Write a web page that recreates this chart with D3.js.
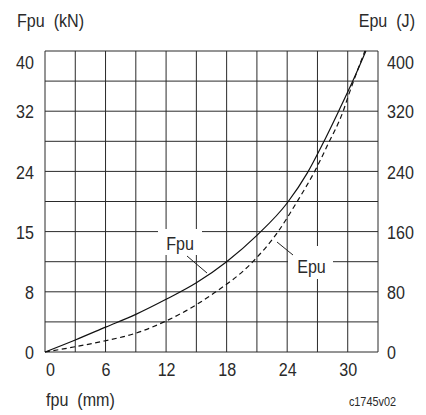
<!DOCTYPE html>
<html><head><meta charset="utf-8">
<script src="https://cdn.jsdelivr.net/npm/d3@7"></script>
<style>
html,body{margin:0;padding:0;background:#fff;}
svg{display:block;}
text{font-family:"Liberation Sans",Arial,sans-serif;fill:#2a2a2a;white-space:pre;}
</style></head>
<body>
<svg id="chart" width="426" height="415"></svg>
<script>
// ---- data ----
const fpuX = [0, 3, 6, 9, 12, 15, 18, 21, 24, 26, 27.5, 29.1, 30.5, 31.8];
const fpuKN = [0, 1.6, 3.3, 5.0, 7.0, 9.2, 12, 15.5, 19.8, 23.8, 27.6, 32, 36, 40];
const epuX = [0, 3, 6, 9, 11.8, 14, 16.5, 20.6, 23.1, 24.9, 26.8, 28.0, 29.6, 30.0, 31.7];
const epuJ = [0, 7, 15, 25, 40, 55, 76, 120, 160, 198, 242, 275, 322, 338, 400];
const xTicks = [0, 6, 12, 18, 24, 30];
const leftTicks = [0, 8, 16, 24, 32, 40];
const leftTickLabels = ["0", "8", "15", "24", "32", "40"];
const rightTicks = [0, 80, 160, 240, 320, 400];
const xGrid = d3.range(0, 34, 3);
const yGrid = d3.range(0, 41, 4);

const SX = 0.87; // horizontal condensing of the font
const svg = d3.select("#chart");
const x = d3.scaleLinear().domain([0, 33]).range([45, 378]);
const y = d3.scaleLinear().domain([0, 40]).range([352, 51]);
const yR = d3.scaleLinear().domain([0, 400]).range([352, 51]);
const gridColor = "#2a2a2a";

function addText(px, py, str, size, anchor) {
  return svg.append("text")
    .attr("transform", `translate(${px},${py}) scale(${SX},1)`)
    .attr("text-anchor", anchor || "start")
    .style("font-size", size + "px")
    .text(str);
}

// grid
const grid = svg.append("g");
grid.selectAll("line.v").data(xGrid).join("line")
  .attr("x1", d => x(d)).attr("x2", d => x(d))
  .attr("y1", y(0)).attr("y2", y(40))
  .attr("stroke", gridColor).attr("stroke-width", 1);
grid.selectAll("line.h").data(yGrid).join("line")
  .attr("x1", x(0)).attr("x2", x(33))
  .attr("y1", d => y(d)).attr("y2", d => y(d))
  .attr("stroke", gridColor).attr("stroke-width", 1);

// curves
const lineF = d3.line().x(d => x(d[0])).y(d => y(d[1])).curve(d3.curveMonotoneX);
const lineE = d3.line().x(d => x(d[0])).y(d => yR(d[1])).curve(d3.curveMonotoneX);
svg.append("path").datum(fpuX.map((v, i) => [v, fpuKN[i]]))
  .attr("d", lineF).attr("fill", "none").attr("stroke", "#111").attr("stroke-width", 1.2);
svg.append("path").datum(epuX.map((v, i) => [v, epuJ[i]]))
  .attr("d", lineE).attr("fill", "none").attr("stroke", "#111").attr("stroke-width", 1.2)
  .attr("stroke-dasharray", "5,3.5");

// in-plot labels with white boxes and leaders
svg.append("rect").attr("x", 158).attr("y", 229).attr("width", 44).attr("height", 26).attr("fill", "#fff");
addText(180, 250, "Fpu", 18.5, "middle");
svg.append("line").attr("x1", 187).attr("y1", 256).attr("x2", 207).attr("y2", 273)
  .attr("stroke", "#222").attr("stroke-width", 1);

svg.append("rect").attr("x", 288).attr("y", 246).attr("width", 45).attr("height", 33).attr("fill", "#fff");
addText(311.5, 273, "Epu", 18.5, "middle");
svg.append("line").attr("x1", 277).attr("y1", 242).attr("x2", 293).attr("y2", 255)
  .attr("stroke", "#222").attr("stroke-width", 1);

// axes (labels only)
const axL = svg.append("g").attr("transform", `translate(${x(0)},0)`)
  .call(d3.axisLeft(y).tickValues(leftTicks).tickFormat((d, i) => leftTickLabels[i]).tickSize(0).tickPadding(11));
const axR = svg.append("g").attr("transform", `translate(${x(33)},0)`)
  .call(d3.axisRight(yR).tickValues(rightTicks).tickFormat(d3.format("d")).tickSize(0).tickPadding(9));
const axB = svg.append("g").attr("transform", `translate(0,${y(0)})`)
  .call(d3.axisBottom(x).tickValues(xTicks).tickFormat(d3.format("d")).tickSize(0).tickPadding(11));
[axL, axR, axB].forEach(a => {
  a.select(".domain").remove();
  a.attr("font-family", null).attr("font-size", null);
  a.selectAll("text").style("font-size", "18.5px").attr("fill", "#2a2a2a")
    .attr("transform", `scale(${SX},1)`);
});
axL.selectAll(".tick text").attr("x", -11 / SX).attr("dy", d => d === 40 ? "0.95em" : "0.36em");
axR.selectAll(".tick text").attr("x", 9 / SX).attr("dy", d => d === 400 ? "0.95em" : "0.36em");
axB.selectAll(".tick text").attr("dy", "0.72em")
  .attr("text-anchor", d => d === 0 ? "start" : "middle")
  .attr("x", d => d === 0 ? 0.5 / SX : 0);

// titles
addText(17, 27, "Fpu  (kN)", 18.5);
addText(415, 27, "Epu  (J)", 18.5, "end");
addText(46, 406, "fpu  (mm)", 18.5);
addText(396, 406, "c1745v02", 12.5, "end");
</script>
</body></html>
